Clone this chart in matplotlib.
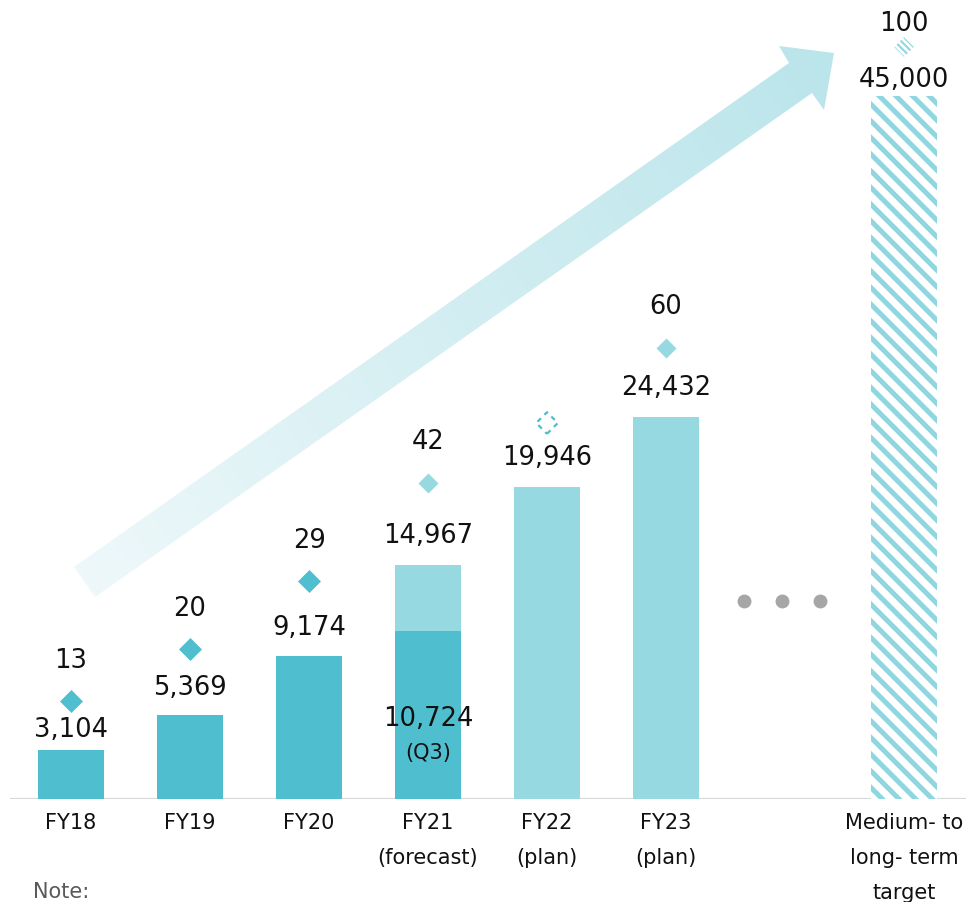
import numpy as np
import matplotlib.pyplot as plt
from matplotlib.patches import Polygon
from matplotlib.colors import LinearSegmentedColormap

# ---- data -------------------------------------------------------------
categories = [
    ["FY18"],
    ["FY19"],
    ["FY20"],
    ["FY21", "(forecast)"],
    ["FY22", "(plan)"],
    ["FY23", "(plan)"],
    ["Medium- to", "long- term", "target"],
]
positions = [0, 1, 2, 3, 4, 5, 7]
revenue = [3104, 5369, 9174, 14967, 19946, 24432, 45000]
revenue_labels = ["3,104", "5,369", "9,174", "14,967", "19,946", "24,432", "45,000"]
fy21_q3 = 10724
fy21_q3_label = "10,724"
index_values = [13, 20, 29, 42, 50, 60, 100]
index_labels = ["13", "20", "29", "42", None, "60", "100"]

# ---- style ------------------------------------------------------------
DARK = "#4FBECE"
LIGHT = "#97D9E1"
HATCH = "#8FD6E0"
GREY_LINE = "#D9D9D9"
DOT = "#A6A6A6"
TXT = "#111111"
PX = 0.72  # points per pixel at 100 dpi

plt.rcParams["font.family"] = ["DejaVu Sans"]
plt.rcParams["hatch.linewidth"] = 3.6

W, H = 966, 902
fig = plt.figure(figsize=(W / 100, H / 100), dpi=100)

# background layer in pixel units for the growth arrow
bg = fig.add_axes([0, 0, 1, 1], zorder=0)
bg.set_xlim(0, W)
bg.set_ylim(H, 0)
bg.axis("off")

arrow_pts = np.array([
    (74, 567), (789, 63), (779, 46), (834, 53),
    (824, 110), (812, 93), (95, 597),
])
tail = np.array([84.0, 582.0])
tip = np.array([832.0, 53.0])
d = (tip - tail) / np.linalg.norm(tip - tail)
yy, xx = np.mgrid[0:H, 0:W]
proj = ((xx - tail[0]) * d[0] + (yy - tail[1]) * d[1]) / np.linalg.norm(tip - tail)
proj = np.clip(proj, 0, 1)
cmap = LinearSegmentedColormap.from_list("grow", ["#EEF8FA", "#D3EEF2", "#BAE5EB"])
img = bg.imshow(proj, cmap=cmap, extent=(0, W, H, 0), origin="upper",
                interpolation="bilinear", aspect="auto")
poly = Polygon(arrow_pts, closed=True, facecolor="none", edgecolor="none")
bg.add_patch(poly)
img.set_clip_path(poly)

# main chart axes
ax = fig.add_axes([0, (H - 799) / H, 1, 799 / H], zorder=1)
ax.patch.set_visible(False)
ax.set_xlim(-0.597, 7.521)
ax.set_ylim(0, 799 / 0.01563)
ax.axis("off")

ax2 = ax.twinx()
ax2.set_ylim(0, 799 / 7.52)
ax2.axis("off")

bw = 0.56
ax.axhline(0, xmin=11 / W, xmax=1, color=GREY_LINE, lw=1.6, zorder=1)

# bars
for i, (x, v) in enumerate(zip(positions, revenue)):
    if i < 3:
        ax.bar(x, v, bw, color=DARK, zorder=2)
    elif i == 3:
        ax.bar(x, fy21_q3, bw, color=DARK, zorder=2)
        ax.bar(x, v - fy21_q3, bw, bottom=fy21_q3, color=LIGHT, zorder=2)
    elif i < 6:
        ax.bar(x, v, bw, color=LIGHT, zorder=2)
    else:
        ax.bar(x, v, bw, facecolor="white", edgecolor=HATCH, linewidth=0,
               hatch="\\\\", zorder=2)

# revenue labels
rev_offsets = [13, 20, 21, 22, 22, 22, 9]
for x, v, lab, off in zip(positions, revenue, revenue_labels, rev_offsets):
    ax.annotate(lab, xy=(x, v), xytext=(0, off * PX), textcoords="offset points",
                ha="center", va="baseline", fontsize=18.5, color=TXT, zorder=5)
ax.annotate(fy21_q3_label, xy=(3, fy21_q3), xytext=(0, -95 * PX),
            textcoords="offset points", ha="center", va="baseline",
            fontsize=18.5, color=TXT, zorder=5)
ax.annotate("(Q3)", xy=(3, fy21_q3), xytext=(0, -128 * PX),
            textcoords="offset points", ha="center", va="baseline",
            fontsize=15, color=TXT, zorder=5)

# index markers
for i, (x, v) in enumerate(zip(positions, index_values)):
    if i < 3:
        ax2.scatter(x, v, marker="D", s=11.7 ** 2, color=DARK, linewidths=0, zorder=4)
    elif i in (3, 5):
        ax2.scatter(x, v, marker="D", s=10.2 ** 2, color=LIGHT, linewidths=0, zorder=4)
    elif i == 4:
        ax2.scatter(x, v, marker="D", s=11.0 ** 2, facecolors="none", edgecolors=DARK,
                    linewidths=1.6, linestyles=(0, (2.2, 2.2)), zorder=4)
    else:
        with plt.rc_context({"hatch.linewidth": 1.5}):
            sc = ax2.scatter(x, v, marker="D", s=10.0 ** 2, facecolors="white",
                             edgecolors=HATCH, linewidths=0,
                             hatch="\\\\\\\\\\", zorder=4)
            if hasattr(sc, "set_hatch_linewidth"):
                sc.set_hatch_linewidth(1.5)

idx_offsets = [33, 33, 33, 34, 34, 34, 16]
for x, v, lab, off in zip(positions, index_values, index_labels, idx_offsets):
    if lab is None:
        continue
    ax2.annotate(lab, xy=(x, v), xytext=(0, off * PX), textcoords="offset points",
                 ha="center", va="baseline", fontsize=18.5, color=TXT, zorder=5)

# ellipsis between the plan years and the long-term target
ax.plot([6 - 0.345, 6 - 0.025, 6 + 0.29], [198 / 0.01563] * 3, "o", ms=10,
        color=DOT, mec="none", zorder=3)

# category labels
line_offsets = [30, 65, 100]
for x, lines in zip(positions, categories):
    for ln, off in zip(lines, line_offsets):
        ax.annotate(ln, xy=(x, 0), xytext=(0, -off * PX), textcoords="offset points",
                    ha="center", va="baseline", fontsize=15, color=TXT,
                    annotation_clip=False)

fig.text(33 / W, 1 - 898 / H, "Note:", fontsize=15, color="#595959", va="baseline")

fig.savefig("out.png", dpi=100)
